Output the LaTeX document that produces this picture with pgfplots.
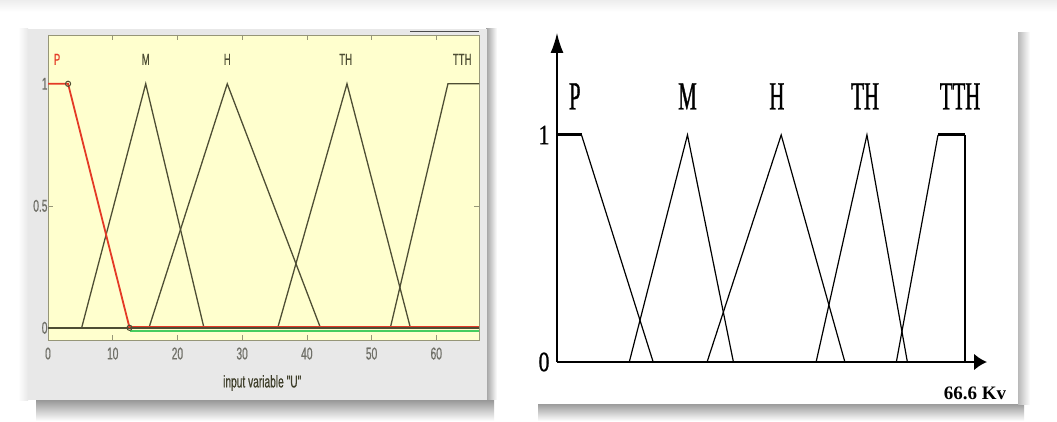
\documentclass[border=0pt]{standalone}
\usepackage{pgfplots}
\pgfplotsset{compat=1.18}
\usepackage{graphicx}
\usepackage{fontspec}
\setmainfont{Liberation Serif}
\newfontfamily\guisans[FakeStretch=0.6,FakeBold=0.6]{Liberation Sans}
\newfontfamily\tallserif[FakeStretch=0.52,FakeBold=0.8]{Liberation Serif}
\newfontfamily\tickserif[FakeStretch=0.78,FakeBold=0.8]{Liberation Serif}
\usetikzlibrary{arrows.meta}

\definecolor{mfyellow}{RGB}{255,255,206}
\definecolor{mfline}{RGB}{78,78,52}
\definecolor{mfred}{RGB}{228,58,38}
\definecolor{mfgreen}{RGB}{70,205,95}
\definecolor{guitext}{RGB}{112,112,104}
\definecolor{guiframe}{RGB}{150,150,120}

\begin{document}
\begin{tikzpicture}[x=1pt,y=1pt]
\useasboundingbox (0,0) rectangle (1057,421);
\fill[white] (0,0) rectangle (1057,421);
\shade[top color=gray!14,bottom color=white] (0,409) rectangle (1057,421);

% window of the membership-function editor
\shade[top color=gray!85,bottom color=white] (36,0) rectangle (494,22);
\shade[left color=gray!75,right color=white] (486,22) rectangle (497,392);
\shade[left color=white,right color=gray!18] (18,21) rectangle (28,392);
\fill[gray!18] (28,21) rectangle (487,392);
\draw[gray!60!black, line width=0.8pt] (410,390) -- (479,390);

% card of the sketched diagram
\shade[top color=gray!78,bottom color=white] (538,0) rectangle (1024,17);
\shade[left color=gray!55,right color=white] (1018,17) rectangle (1030,388);

% ---------- membership functions of input "U" ----------
\begin{axis}[
  at={(48pt,81pt)}, anchor=south west, scale only axis,
  width=431pt, height=305pt,
  xmin=0, xmax=66.6, ymin=-0.05, ymax=1.2,
  axis background/.style={fill=mfyellow},
  axis line style={draw=guiframe, line width=0.8pt},
  tick align=inside, major tick length=5pt,
  tick style={draw=guiframe, line width=0.6pt},
  xtick={0,10,...,60}, ytick={0,0.5,1},
  xtick pos=both, ytick pos=both,
  xticklabel pos=lower, yticklabel pos=left,
  /pgf/number format/assume math mode=true,
  ticklabel style={font=\guisans\fontsize{17}{17}\selectfont, text=guitext},
  xticklabel style={yshift=-4pt},
  yticklabel style={xshift=3pt},
  clip=false]
\addplot[mfline, line width=1.3pt] coordinates {(5.2,0) (15.1,1) (24.1,0)};
\addplot[mfline, line width=1.3pt] coordinates {(15.6,0) (27.7,1) (42.1,0)};
\addplot[mfline, line width=1.3pt] coordinates {(35.5,0) (46.2,1) (56.0,0)};
\addplot[mfline, line width=1.3pt] coordinates {(52.9,0) (61.8,1) (66.6,1)};
\addplot[mfline, line width=2.4pt] coordinates {(0,0) (12.6,0)};
\addplot[mfline, line width=1.4pt] coordinates {(12.6,0) (66.6,0)};
\addplot[mfgreen, line width=1.3pt] coordinates {(12.6,-0.013) (66.6,-0.013)};
\addplot[mfred, line width=0.9pt] coordinates {(12.6,0.006) (66.6,0.006)};
\addplot[mfred, line width=1.8pt] coordinates {(0,1) (3.1,1) (12.6,0)};
\addplot[only marks, mark=o, mark size=2.6pt, mfline, line width=1pt] coordinates {(3.1,1) (12.6,0)};
\node[text=mfred, font=\guisans\fontsize{16}{16}\selectfont] at (axis cs:1.4,1.1) {P};
\node[text=mfline, font=\guisans\fontsize{16}{16}\selectfont] at (axis cs:15.1,1.1) {M};
\node[text=mfline, font=\guisans\fontsize{16}{16}\selectfont] at (axis cs:27.7,1.1) {H};
\node[text=mfline, font=\guisans\fontsize{16}{16}\selectfont] at (axis cs:46.0,1.1) {TH};
\node[text=mfline, font=\guisans\fontsize{16}{16}\selectfont] at (axis cs:64.0,1.1) {TTH};
\node[text=mfline!80!black, font=\guisans\fontsize{17}{17}\selectfont] at (axis description cs:0.497,0) [yshift=-43pt] {input variable "U"};
\end{axis}

% ---------- sketched membership functions, 0 to 66.6 kV ----------
\begin{axis}[
  at={(557pt,59pt)}, anchor=south west, scale only axis,
  width=430pt, height=329pt,
  xmin=0, xmax=70.2, ymin=0, ymax=1.449,
  axis lines=left,
  x axis line style={line width=2.6pt, -{Latex[length=13pt,width=17pt]}},
  y axis line style={line width=1.4pt, -{Latex[length=20pt,width=13pt]}},
  xtick=\empty, ytick={0,1}, major tick length=0pt,
  /pgf/number format/assume math mode=true,
  yticklabel style={font=\tickserif\fontsize{28}{28}\selectfont, xshift=-4pt},
  clip=false]
\addplot[black, line width=3pt] coordinates {(0,1) (4,1)};
\addplot[black, line width=1.2pt] coordinates {(4,1) (15.7,0)};
\addplot[black, line width=1.2pt] coordinates {(11.8,0) (21.3,1) (28.8,0)};
\addplot[black, line width=1.2pt] coordinates {(24.5,0) (36.6,1) (47.0,0)};
\addplot[black, line width=1.2pt] coordinates {(42.3,0) (50.6,1) (57.2,0)};
\addplot[black, line width=1.2pt] coordinates {(55.4,0) (62.2,1)};
\addplot[black, line width=3pt] coordinates {(62.2,1) (66.6,1)};
\addplot[black, line width=1.2pt] coordinates {(66.6,1) (66.6,0)};
\node[font=\tallserif\fontsize{40}{40}\selectfont] at (axis cs:2.9,1.17) {P};
\node[font=\tallserif\fontsize{40}{40}\selectfont] at (axis cs:21.3,1.17) {M};
\node[font=\tallserif\fontsize{40}{40}\selectfont] at (axis cs:35.9,1.17) {H};
\node[font=\tallserif\fontsize{40}{40}\selectfont] at (axis cs:50.3,1.17) {TH};
\node[font=\tallserif\fontsize{40}{40}\selectfont] at (axis cs:65.8,1.17) {TTH};
\end{axis}
\node[font=\bfseries\fontsize{19}{19}\selectfont] at (975,28) {66.6 Kv};
\end{tikzpicture}
\end{document}
